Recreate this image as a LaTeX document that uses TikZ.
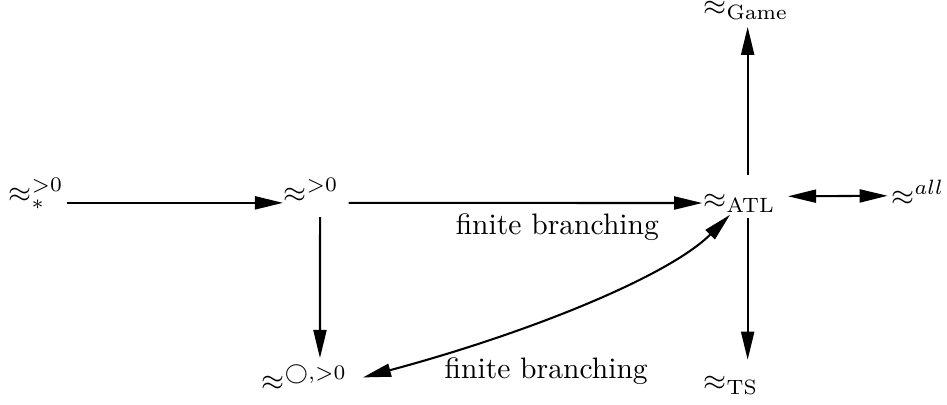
\documentclass[tikz,border=0pt]{standalone}
\usepackage{amsmath}
\usetikzlibrary{arrows.meta}

\begin{document}
\begin{tikzpicture}[every node/.style={inner sep=0pt, anchor=base west},
        arr/.style={-{Triangle[length=9.5pt, width=4.4pt]}, line width=0.7pt},
        dbl/.style={{Triangle[length=9.5pt, width=4.4pt]}-{Triangle[length=9.5pt, width=4.4pt]}, line width=0.7pt}]
        \useasboundingbox (0, 0) rectangle (11.25, 4.80);

        % Left part - middle row
        \node (star) at (0.095, 2.400) {$\approx^{>0}_{*}$};
        \node (pos) at (3.362, 2.400) {$\approx^{>0}$};
        \node (next) at (3.101, 0.166) {$\approx^{\bigcirc,>0}$};

        % Right part - column round ATL
        \node (atl) at (8.352, 2.328) {$\approx_{\mathrm{ATL}}$};
        \node (game) at (8.352, 4.621) {$\approx_{\mathrm{Game}}$};
        \node (ts) at (8.352, 0.166) {$\approx_{\mathrm{TS}}$};
        \node (all) at (10.585, 2.364) {$\approx^{all}$};

        % Arrows along the middle row
        \draw[arr] ([shift={(0.70, -0.01)}]star.base west) -- ([shift={(0.00, -0.01)}]pos.base west);
        \draw[arr] ([shift={(0.78, -0.01)}]pos.base west) -- ([shift={(-0.01, 0.06)}]atl.base west)
                node[pos=0.3, below=0.12cm, anchor=north west] (fb1) {finite branching};
        \draw[dbl] ([shift={(1.01, 0.14)}]atl.base west) -- ([shift={(-0.04, 0.11)}]all.base west);

        % Vertical arrows
        \draw[arr] ([shift={(0.44, -0.18)}]pos.base west) -- ([shift={(0.70, 0.38)}]next.base west);
        \draw[arr] ([shift={(0.53, 0.39)}]atl.base west) -- ([shift={(0.53, -0.14)}]game.base west);
        \draw[arr] ([shift={(0.53, -0.12)}]atl.base west) -- ([shift={(0.53, 0.36)}]ts.base west);

        % Curved arrow back from ATL
        \draw[dbl] ([shift={(1.21, 0.15)}]next.base west) to[out=15, in=225, out looseness=1.1, in looseness=0.55] ([shift={(0.32, -0.08)}]atl.base west);
        \node (fb2) at (5.275, 0.309) {finite branching};
    \end{tikzpicture}
\end{document}
